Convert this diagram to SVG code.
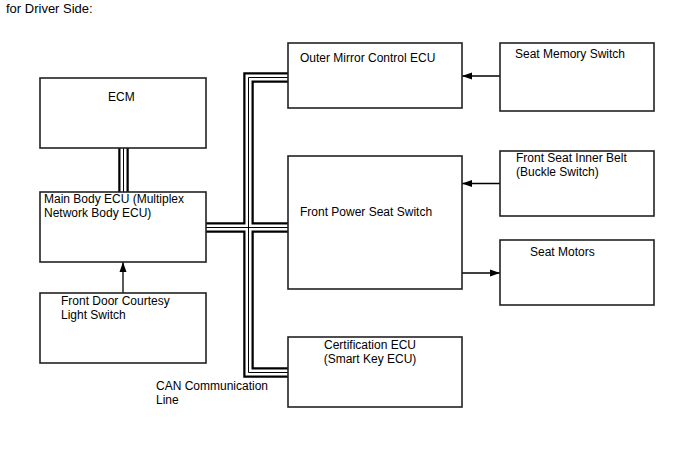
<svg xmlns="http://www.w3.org/2000/svg" width="688" height="463" viewBox="0 0 688 463">
<style>
.box{fill:#fff;stroke:#222;stroke-width:1.6}
.t{font-family:"Liberation Sans",Arial,sans-serif;font-size:12px;fill:#000}
.c1{fill:none;stroke:#000;stroke-width:10.5}
.c2{fill:none;stroke:#fff;stroke-width:6}
.c3{fill:none;stroke:#000;stroke-width:1}
.ar{fill:none;stroke:#000;stroke-width:1.3}
</style>
<defs>
<marker id="ah" markerWidth="10" markerHeight="8" refX="10" refY="4" orient="auto" markerUnits="userSpaceOnUse">
<path d="M0,0.5 L10,4 L0,7.5 Z" fill="#000"/>
</marker>
</defs>
<rect width="688" height="463" fill="#fff"/>
<text class="t" x="6" y="13" style="font-size:13px">for Driver Side:</text>
<g id="connectors">
<g id="cables">
<path class="c1" d="M288,77.5 H248.5 V372.5 H288 M206,227.5 H288 M123.5,148 V192"/>
<path class="c2" d="M288,77.5 H248.5 V372.5 H288 M206,227.5 H288 M123.5,148 V192"/>
<path class="c3" d="M288,77.5 H248.5 V372.5 H288 M206,227.5 H288 M123.5,148 V192"/>
</g>
<line class="ar" x1="500" y1="76" x2="462" y2="76" marker-end="url(#ah)"/>
<line class="ar" x1="500" y1="183.5" x2="462" y2="183.5" marker-end="url(#ah)"/>
<line class="ar" x1="462" y1="273" x2="500" y2="273" marker-end="url(#ah)"/>
<line class="ar" x1="123" y1="293" x2="123" y2="262" marker-end="url(#ah)"/>
</g>
<g id="ecm"><rect class="box" x="40" y="78" width="166" height="70"/><text class="t" x="108" y="101">ECM</text></g>
<g id="main-body-ecu"><rect class="box" x="40" y="192" width="166" height="70"/><text class="t" x="44" y="203">Main Body ECU (Multiplex</text><text class="t" x="44" y="217">Network Body ECU)</text></g>
<g id="front-door"><rect class="box" x="40" y="293" width="166" height="70"/><text class="t" x="61" y="305">Front Door Courtesy</text><text class="t" x="61" y="319">Light Switch</text></g>
<g id="outer-mirror"><rect class="box" x="288" y="43" width="174" height="65"/><text class="t" x="300" y="62">Outer Mirror Control ECU</text></g>
<g id="seat-memory"><rect class="box" x="500" y="43" width="154" height="68"/><text class="t" x="515" y="58">Seat Memory Switch</text></g>
<g id="front-power-seat"><rect class="box" x="288" y="156" width="174" height="133"/><text class="t" x="300" y="216">Front Power Seat Switch</text></g>
<g id="inner-belt"><rect class="box" x="500" y="151" width="154" height="65"/><text class="t" x="516" y="162">Front Seat Inner Belt</text><text class="t" x="516" y="176">(Buckle Switch)</text></g>
<g id="seat-motors"><rect class="box" x="500" y="240" width="154" height="65"/><text class="t" x="530" y="256">Seat Motors</text></g>
<g id="certification-ecu"><rect class="box" x="288" y="337" width="174" height="70"/><text class="t" x="370" y="349" text-anchor="middle">Certification ECU</text><text class="t" x="370" y="363" text-anchor="middle">(Smart Key ECU)</text></g>
<text class="t" x="156" y="390">CAN Communication</text>
<text class="t" x="156" y="404">Line</text>
</svg>
